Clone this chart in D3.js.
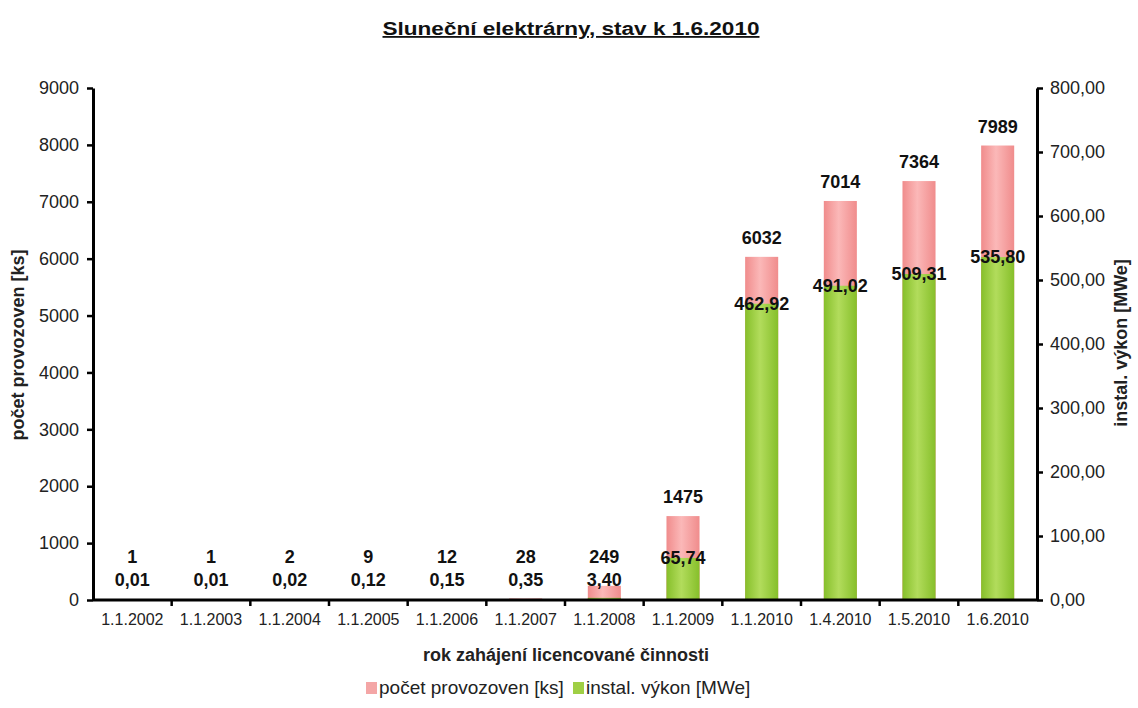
<!DOCTYPE html>
<html><head><meta charset="utf-8">
<script src="https://cdn.jsdelivr.net/npm/d3@7"></script>
<style>body{margin:0;background:#fff;} text{font-family:"Liberation Sans",Arial,sans-serif;}</style>
</head><body>
<svg id="c" width="1138" height="708"></svg>
<script>
const categories = ["1.1.2002","1.1.2003","1.1.2004","1.1.2005","1.1.2006","1.1.2007","1.1.2008","1.1.2009","1.1.2010","1.4.2010","1.5.2010","1.6.2010"];
const countValues = [1,1,2,9,12,28,249,1475,6032,7014,7364,7989];
const powerValues = [0.01,0.01,0.02,0.12,0.15,0.35,3.40,65.74,462.92,491.02,509.31,535.80];
const leftTicks = [0,1000,2000,3000,4000,5000,6000,7000,8000,9000];
const rightTicks = [0,100,200,300,400,500,600,700,800];

const svg = d3.select("#c");
const L = 93, R = 1037, T = 88, B = 600;
const x = d3.scaleBand().domain(categories).range([L, R]).paddingInner(0.58).paddingOuter(0.29);
const yL = d3.scaleLinear().domain([0, 9000]).range([B, T]);
const yR = d3.scaleLinear().domain([0, 800]).range([B, T]);
const fmt = d3.format(".2f");
const cz = v => fmt(v).replace(".", ",");

const defs = svg.append("defs");
function grad(id, edge, mid){
  const g = defs.append("linearGradient").attr("id", id).attr("x1","0").attr("x2","1").attr("y1","0").attr("y2","0");
  g.append("stop").attr("offset","0%").attr("stop-color", edge);
  g.append("stop").attr("offset","45%").attr("stop-color", mid);
  g.append("stop").attr("offset","100%").attr("stop-color", edge);
}
grad("gp", "#f08c8c", "#fbb8b8");
grad("gg", "#86bf2a", "#b2dc5c");

// title
svg.append("text").attr("x", 571).attr("y", 35).attr("text-anchor","middle")
  .attr("font-size", 18).attr("font-weight","bold").attr("text-decoration","underline")
  .attr("textLength", 377).attr("lengthAdjust","spacingAndGlyphs")
  .attr("fill","#111").text("Sluneční elektrárny, stav k 1.6.2010");

// bars
svg.append("g").selectAll("rect").data(countValues).join("rect")
  .attr("x", (d,i) => x(categories[i])).attr("width", x.bandwidth())
  .attr("y", d => yL(d)).attr("height", d => B - yL(d)).attr("fill","url(#gp)");
svg.append("g").selectAll("rect").data(powerValues).join("rect")
  .attr("x", (d,i) => x(categories[i])).attr("width", x.bandwidth())
  .attr("y", d => yR(d)).attr("height", d => B - yR(d)).attr("fill","url(#gg)");

// axes
const axStyle = g => { g.selectAll("path,line").attr("stroke","#000"); g.select(".domain").attr("stroke-width",3); g.selectAll(".tick line").attr("stroke-width",2.5); g.selectAll("text").attr("fill","#222").attr("font-family","'Liberation Sans',Arial,sans-serif"); };
svg.append("g").attr("transform",`translate(${L},0)`)
  .call(d3.axisLeft(yL).tickValues(leftTicks).tickSize(6).tickSizeOuter(0).tickPadding(8).tickFormat(d3.format("d")))
  .call(axStyle).selectAll("text").attr("font-size",18);
svg.append("g").attr("transform",`translate(${R},0)`)
  .call(d3.axisRight(yR).tickValues(rightTicks).tickSize(6).tickSizeOuter(0).tickPadding(7).tickFormat(cz))
  .call(axStyle).selectAll("text").attr("font-size",18);
const xa = svg.append("g").attr("transform",`translate(0,${B})`)
  .call(d3.axisBottom(x).tickSize(0).tickPadding(14)).call(axStyle);
xa.select(".domain").attr("d", `M${L},0H${R}`);
xa.selectAll("text").attr("font-size",16);
// category separator ticks
const step = (R - L) / categories.length;
svg.append("g").selectAll("line").data(d3.range(1, categories.length)).join("line")
  .attr("x1", i => L + i*step).attr("x2", i => L + i*step).attr("y1", B).attr("y2", B+6)
  .attr("stroke","#000").attr("stroke-width",2.5);

// labels
svg.append("g").selectAll("text").data(countValues).join("text")
  .attr("x", (d,i) => x(categories[i]) + x.bandwidth()/2)
  .attr("y", d => Math.min(yL(d) - 13, 563))
  .attr("text-anchor","middle").attr("font-size",18).attr("font-weight","bold").attr("fill","#111")
  .text(d => d);
svg.append("g").selectAll("text").data(powerValues).join("text")
  .attr("x", (d,i) => x(categories[i]) + x.bandwidth()/2)
  .attr("y", d => Math.min(yR(d) + 6, 586))
  .attr("text-anchor","middle").attr("font-size",18).attr("font-weight","bold").attr("fill","#111")
  .text(d => cz(d));

// axis titles
svg.append("text").attr("transform","translate(24,345) rotate(-90)").attr("text-anchor","middle")
  .attr("font-size",18).attr("font-weight","bold").attr("fill","#222").text("počet provozoven [ks]");
svg.append("text").attr("transform","translate(1127,343) rotate(-90)").attr("text-anchor","middle")
  .attr("font-size",18).attr("font-weight","bold").attr("fill","#222").text("instal. výkon [MWe]");
svg.append("text").attr("x",566).attr("y",661).attr("text-anchor","middle")
  .attr("font-size",18).attr("font-weight","bold").attr("fill","#222").text("rok zahájení licencované činnosti");

// legend
const legend = [{label:"počet provozoven [ks]", color:"#f4a6a6", x:366},{label:"instal. výkon [MWe]", color:"#9fcf45", x:573}];
const lg = svg.append("g").selectAll("g").data(legend).join("g").attr("transform", d => `translate(${d.x},694)`);
lg.append("rect").attr("x",0).attr("y",-12).attr("width",11).attr("height",12).attr("fill", d => d.color);
lg.append("text").attr("x",13).attr("y",0).attr("font-size",19).attr("fill","#222").text(d => d.label);
</script>
</body></html>
